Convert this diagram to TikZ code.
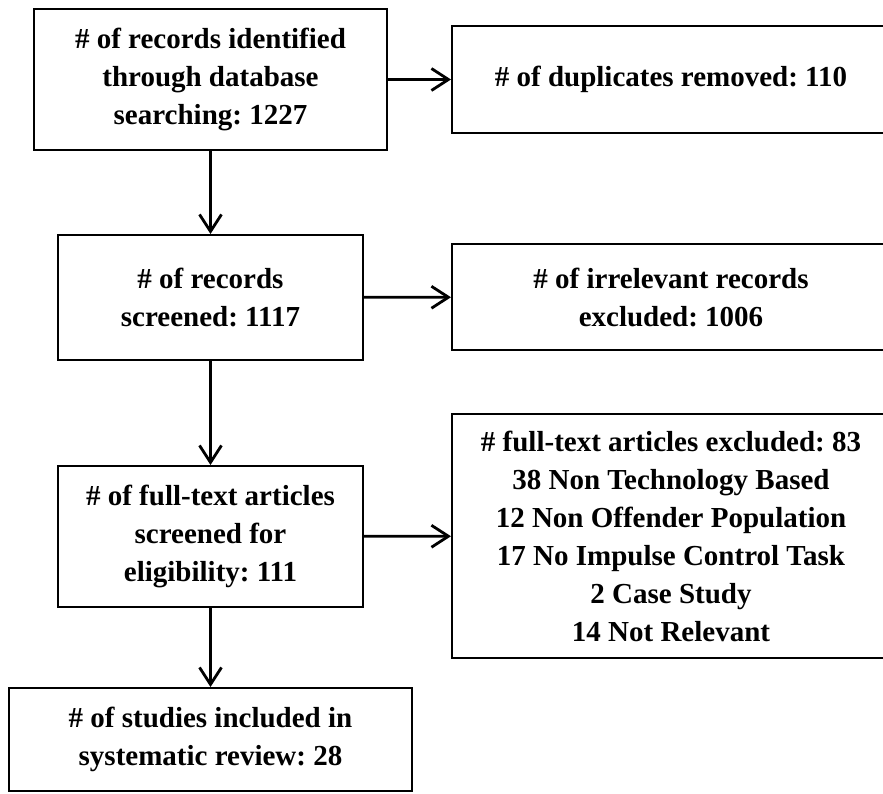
\documentclass[tikz,border=0pt]{standalone}
\usepackage{fontspec}
\setmainfont{Liberation Serif}
\usetikzlibrary{arrows.meta}
\frenchspacing
\tikzset{
  box/.style={draw, line width=2pt, rectangle, inner sep=0pt, align=center,
    font=\bfseries\fontsize{29}{38}\selectfont},
  arr/.style={line width=2.8pt, -{Straight Barb[length=17pt,width=22pt,line width=2.8pt]}}
}
\begin{document}
\begin{tikzpicture}[x=1pt,y=-1pt]
\useasboundingbox (0,0) rectangle (883,793);
\clip (0,0) rectangle (883,793);
\node[box, minimum width=353pt, minimum height=141pt] (b1) at (210.5,79.5)
  {\# of records identified\\through database\\searching: 1227};
\node[box, minimum width=438pt, minimum height=107pt] (b2) at (671,79.5)
  {\# of duplicates removed: 110};
\node[box, minimum width=305pt, minimum height=125pt] (b3) at (210.5,297.5)
  {\# of records\\screened: 1117};
\node[box, minimum width=438pt, minimum height=106pt] (b4) at (671,297)
  {\# of irrelevant records\\excluded: 1006};
\node[box, minimum width=305pt, minimum height=141pt] (b5) at (210.5,536.5)
  {\# of full-text articles\\screened for\\eligibility: 111};
\node[box, minimum width=438pt, minimum height=244pt] (b6) at (671,536)
  {\# full-text articles excluded: 83\\38 Non Technology Based\\12 Non Offender Population\\17 No Impulse Control Task\\2 Case Study\\14 Not Relevant};
\node[box, minimum width=403pt, minimum height=103pt] (b7) at (210.5,739.5)
  {\# of studies included in\\systematic review: 28};
\draw[arr] (b1) -- (b2);
\draw[arr] (b1) -- (b3);
\draw[arr] (b3) -- (b4);
\draw[arr] (b3) -- (b5);
\draw[arr] (b5) -- (b6);
\draw[arr] (b5) -- (b7);
\end{tikzpicture}
\end{document}
